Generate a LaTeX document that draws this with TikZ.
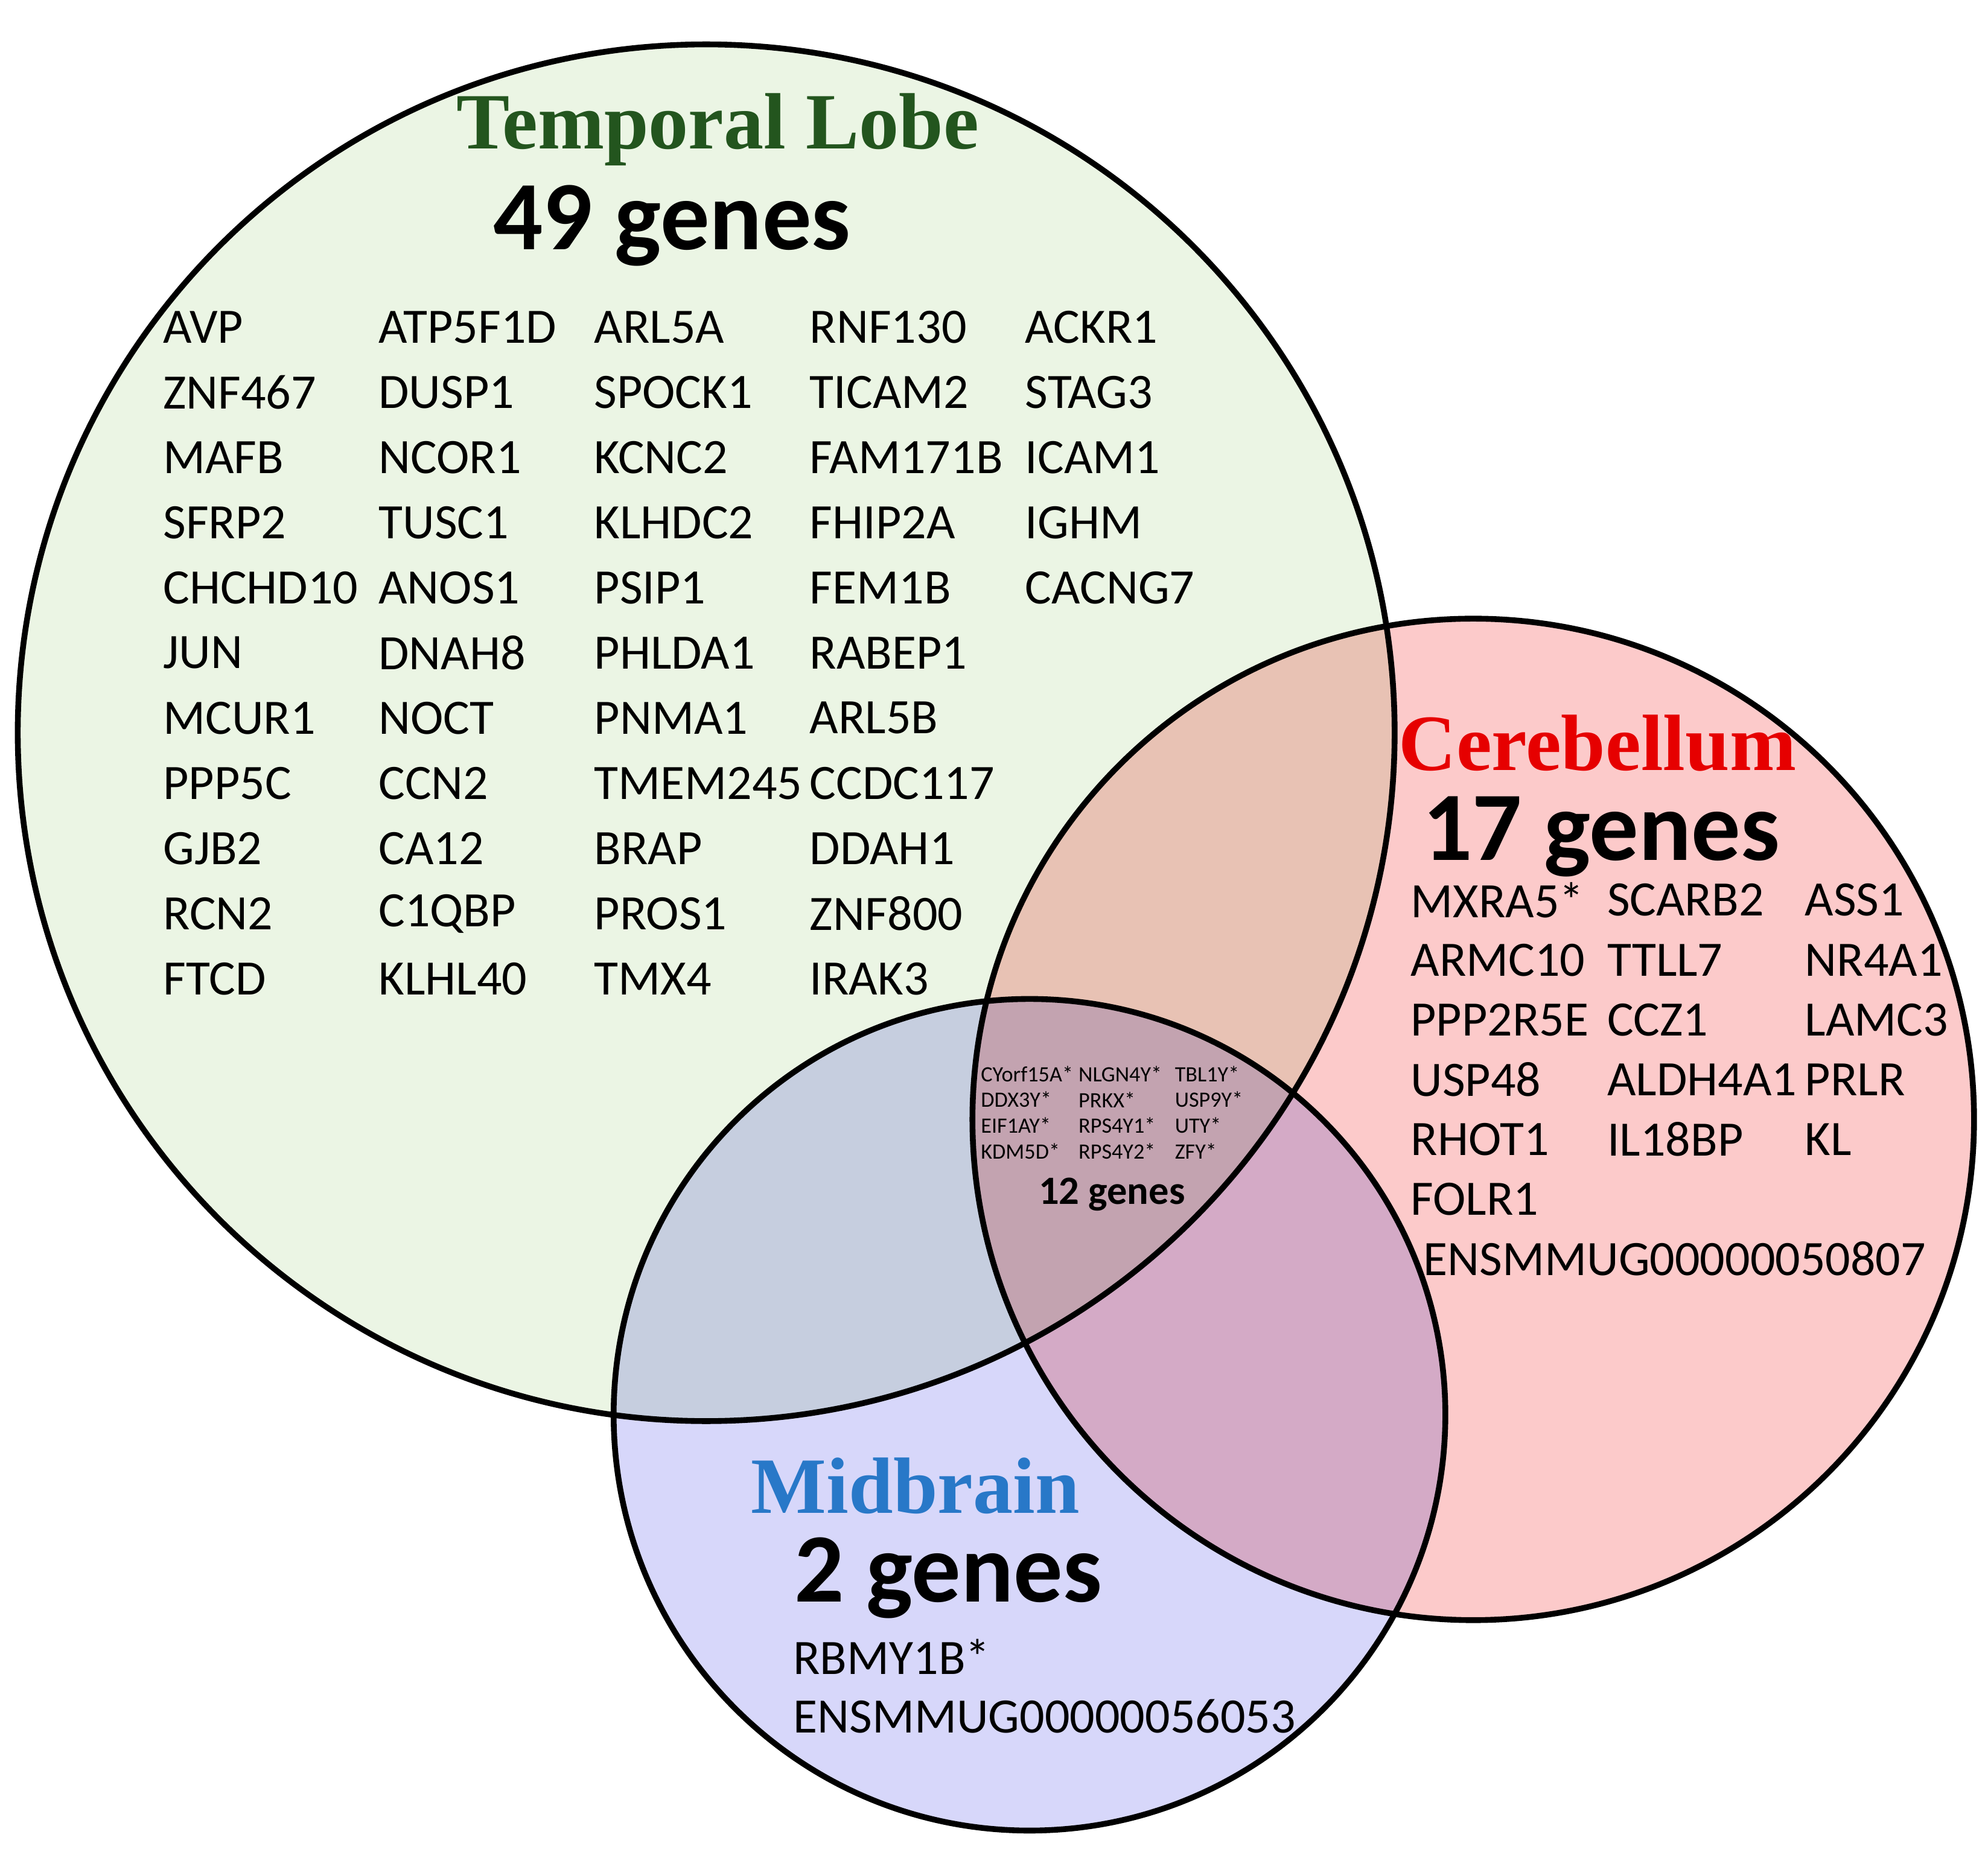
\documentclass[tikz,border=0pt]{standalone}
\usepackage{fontspec}
\setmainfont{Carlito}
\newfontfamily\titlefont{Liberation Serif}
\begin{document}
\begin{tikzpicture}[x=0.01cm,y=-0.01cm,
  gene/.style={anchor=west,inner sep=0,font=\fontsize{11.1}{12}\selectfont},
  tiny/.style={anchor=west,inner sep=0,font=\fontsize{4.9}{6}\selectfont},
  ttl/.style={inner sep=0,font=\fontsize{17.9}{22}\selectfont\titlefont\bfseries},
  cnt/.style={inner sep=0,font=\fontsize{22}{26}\selectfont\bfseries}]
\useasboundingbox (0,0) rectangle (1568,1463);
\definecolor{tg}{RGB}{235,245,228}
\definecolor{cp}{RGB}{252,202,202}
\definecolor{mb}{RGB}{215,215,250}
\begin{scope}[blend group=multiply]
\fill[tg] (557,578) circle (543);
\fill[cp] (1162,883) circle (395);
\fill[mb] (812,1116) circle (328);
\end{scope}
\draw[line width=1.3pt] (557,578) circle (543);
\draw[line width=1.3pt] (1162,883) circle (395);
\draw[line width=1.3pt] (812,1116) circle (328);
\node[ttl,text={rgb,255:red,35;green,85;blue,30}] (t1) at (566,102) {Temporal Lobe};
\node[cnt] (c1) at (530,178) {49 genes};
\node[ttl,text={rgb,255:red,230;green,0;blue,0}] (t2) at (1260,586) {Cerebellum};
\node[cnt] (c2) at (1263,660) {17 genes};
\node[ttl,text={rgb,255:red,40;green,120;blue,200}] (t3) at (722,1172) {Midbrain};
\node[cnt] (c3) at (748,1245) {2 genes};
\foreach \col/\x in {{AVP,ZNF467,MAFB,SFRP2,CHCHD10,JUN,MCUR1,PPP5C,GJB2,RCN2,FTCD}/128,
 {ATP5F1D,DUSP1,NCOR1,TUSC1,ANOS1,DNAH8,NOCT,CCN2,CA12,C1QBP,KLHL40}/298,
 {ARL5A,SPOCK1,KCNC2,KLHDC2,PSIP1,PHLDA1,PNMA1,TMEM245,BRAP,PROS1,TMX4}/468,
 {RNF130,TICAM2,FAM171B,FHIP2A,FEM1B,RABEP1,ARL5B,CCDC117,DDAH1,ZNF800,IRAK3}/638,
 {ACKR1,STAG3,ICAM1,IGHM,CACNG7}/808}{
  \foreach \g [count=\i from 0] in \col {\node[gene] (tl-\x-\i) at (\x,258+51.4*\i) {\g};}}
\foreach \col/\x in {{MXRA5*,ARMC10,PPP2R5E,USP48,RHOT1,FOLR1}/1112,
 {SCARB2,TTLL7,CCZ1,ALDH4A1,IL18BP}/1267,{ASS1,NR4A1,LAMC3,PRLR,KL}/1423}{
  \foreach \g [count=\i from 0] in \col {\node[gene] (cb-\x-\i) at (\x,710+47.2*\i) {\g};}}
\node[gene] (cb-ens) at (1122,993) {ENSMMUG00000050807};
\node[gene] (mb-1) at (625,1307) {RBMY1B*};
\node[gene] (mb-2) at (625,1354) {ENSMMUG00000056053};
\foreach \col/\x in {{CYorf15A*,DDX3Y*,EIF1AY*,KDM5D*}/773,
 {NLGN4Y*,PRKX*,RPS4Y1*,RPS4Y2*}/850,{TBL1Y*,USP9Y*,UTY*,ZFY*}/926}{
  \foreach \g [count=\i from 0] in \col {\node[tiny] (ct-\x-\i) at (\x,847+20.4*\i) {\g};}}
\node[inner sep=0,font=\fontsize{9}{10}\selectfont\bfseries] (c4) at (877,942) {12 genes};
\end{tikzpicture}
\end{document}
